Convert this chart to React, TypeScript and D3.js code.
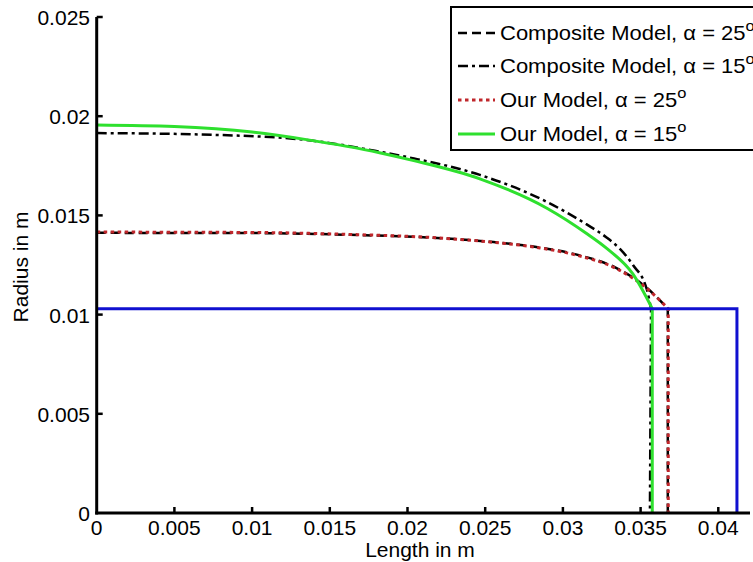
import React from "react";
import * as d3 from "d3";

// ---- Data ----
const xTicks = [0, 0.005, 0.01, 0.015, 0.02, 0.025, 0.03, 0.035, 0.04];
const xTickLabels = ["0", "0.005", "0.01", "0.015", "0.02", "0.025", "0.03", "0.035", "0.04"];
const yTicks = [0, 0.005, 0.01, 0.015, 0.02, 0.025];
const yTickLabels = ["0", "0.005", "0.01", "0.015", "0.02", "0.025"];

// Composite Model, alpha = 25 deg (black dashed)
const comp25X = [0, 0.00987, 0.0163, 0.02145, 0.02531, 0.02853, 0.0311, 0.03336, 0.03529, 0.03675];
const comp25Y = [0.01412, 0.01411, 0.01402, 0.01388, 0.01367, 0.01338, 0.01298, 0.01238, 0.01142, 0.0103];
const comp25End = 0.03675;

// Composite Model, alpha = 15 deg (black dash-dot)
const comp15X = [0, 0.00665, 0.01338, 0.01814, 0.02042, 0.02466, 0.02897, 0.03148, 0.03277, 0.03367, 0.03451, 0.03541, 0.03567];
const comp15Y = [0.01915, 0.01908, 0.01881, 0.01822, 0.01787, 0.01704, 0.01568, 0.01457, 0.01391, 0.01331, 0.0125, 0.01124, 0.0103];
const comp15End = 0.0356;

// Our Model, alpha = 25 deg (red dotted)
const our25X = [0, 0.00987, 0.0163, 0.02145, 0.02531, 0.02853, 0.0311, 0.03336, 0.03529, 0.03678];
const our25Y = [0.01416, 0.01414, 0.01404, 0.01389, 0.01366, 0.01336, 0.01295, 0.01235, 0.01139, 0.0103];
const our25End = 0.03678;

// Our Model, alpha = 15 deg (green solid)
const our15X = [0, 0.005, 0.01, 0.0135, 0.0182, 0.0204, 0.0247, 0.029, 0.0315, 0.0328, 0.0345, 0.03575];
const our15Y = [0.01956, 0.01948, 0.0192, 0.01882, 0.01816, 0.01776, 0.01683, 0.01535, 0.0141, 0.01335, 0.01205, 0.0103];
const our15End = 0.03575;

// Blue rectangle outline
const blueX = [0, 0.0412, 0.0412];
const blueY = [0.0103, 0.0103, 0];

const legendLabels = ["Composite Model, α = 25", "Composite Model, α = 15", "Our Model, α = 25", "Our Model, α = 15"];

// ---- Layout ----
const W = 753;
const H = 562;
const x = d3.scaleLinear().domain([0, 0.042]).range([96.7, 96.7 + 0.042 * 15540]);
const y = d3.scaleLinear().domain([0, 0.025]).range([513, 17]);

const FONT = "'Liberation Sans', Arial, Helvetica, sans-serif";

function curvePath(xs: number[], ys: number[], xEnd: number) {
  const pts: [number, number][] = xs.map((v, i) => [v, ys[i]]);
  const gen = d3
    .line<[number, number]>()
    .x((d) => x(d[0]))
    .y((d) => y(d[1]))
    .curve(d3.curveMonotoneX);
  return (gen(pts) || "") + `L${x(xEnd)},${y(0)}`;
}

const series = [
  { xs: comp25X, ys: comp25Y, end: comp25End, color: "#000", width: 2.5, dash: "9,5" },
  { xs: comp15X, ys: comp15Y, end: comp15End, color: "#000", width: 2.5, dash: "10,4,3,4" },
  { xs: our25X, ys: our25Y, end: our25End, color: "#c0262b", width: 3, dash: "3.5,3.5" },
  { xs: our15X, ys: our15Y, end: our15End, color: "#2ee02e", width: 3, dash: "" },
];

export default function App() {
  const blueLine = d3
    .line<number>()
    .x((_, i) => x(blueX[i]))
    .y((d) => y(d))(blueY) || "";

  const legendBaselines = [40, 73, 107, 141];

  return (
    <svg
      width={W}
      height={H}
      style={{ position: "absolute", left: 0, top: 0, background: "#fff" }}
      fontFamily={FONT}
    >
      <rect x={0} y={0} width={W} height={H} fill="#fff" />
      {series.map((s, i) => (
        <path
          key={i}
          d={curvePath(s.xs, s.ys, s.end)}
          fill="none"
          stroke={s.color}
          strokeWidth={s.width}
          strokeDasharray={s.dash || undefined}
        />
      ))}
      <path d={blueLine} fill="none" stroke="#1010d0" strokeWidth={3} />

      {/* Axes */}
      <line x1={x(0)} x2={x(0)} y1={y(0.025)} y2={y(0) + 1.5} stroke="#000" strokeWidth={3} />
      <line x1={x(0) - 1.5} x2={750} y1={y(0)} y2={y(0)} stroke="#000" strokeWidth={3} />
      {xTicks.map((t, i) => (
        <g key={"xt" + i}>
          {i > 0 && <line x1={x(t)} x2={x(t)} y1={y(0)} y2={y(0) - 6} stroke="#000" strokeWidth={2.5} />}
          <text x={x(t)} y={535} fontSize={21} textAnchor="middle" fill="#000">
            {xTickLabels[i]}
          </text>
        </g>
      ))}
      {yTicks.map((t, i) => (
        <g key={"yt" + i}>
          {i > 0 && <line x1={x(0)} x2={x(0) + 6} y1={y(t)} y2={y(t)} stroke="#000" strokeWidth={2.5} />}
          <text x={90} y={y(t) + 8} fontSize={21} textAnchor="end" fill="#000">
            {yTickLabels[i]}
          </text>
        </g>
      ))}
      <text x={420} y={557} fontSize={21} textAnchor="middle" fill="#000">
        Length in m
      </text>
      <text transform="translate(28,267) rotate(-90)" fontSize={21} textAnchor="middle" fill="#000">
        Radius in m
      </text>

      {/* Legend */}
      <rect x={451} y={7} width={400} height={143} fill="#fff" stroke="#000" strokeWidth={2} />
      {series.map((s, i) => (
        <g key={"lg" + i}>
          <line
            x1={458}
            x2={495}
            y1={legendBaselines[i] - 7}
            y2={legendBaselines[i] - 7}
            stroke={s.color}
            strokeWidth={s.width}
            strokeDasharray={s.dash || undefined}
          />
          <g transform={`translate(500,${legendBaselines[i]}) scale(1.1,1)`}>
            <text x={0} y={0} fontSize={20} fill="#000">
              {legendLabels[i]}
              <tspan fontSize={15} dy={-9}>o</tspan>
            </text>
          </g>
        </g>
      ))}
    </svg>
  );
}
